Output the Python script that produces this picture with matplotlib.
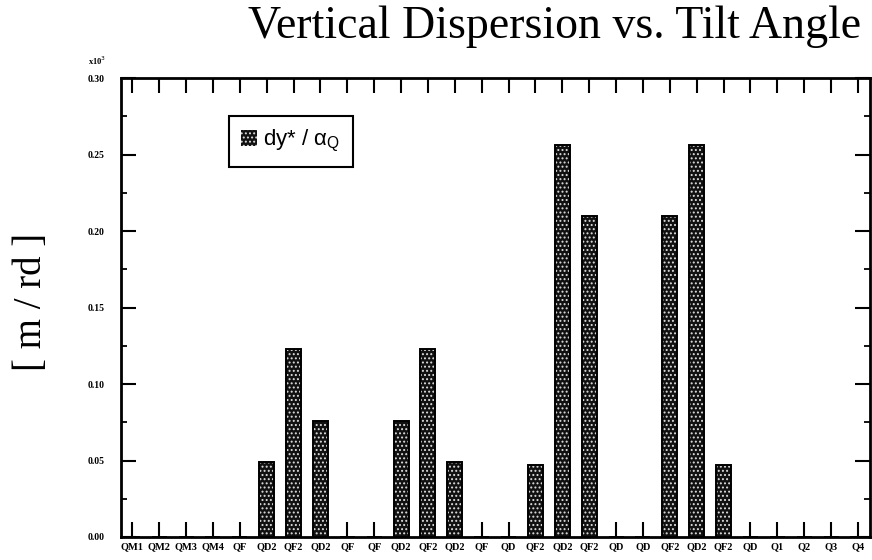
import matplotlib
matplotlib.use("Agg")
import matplotlib.pyplot as plt
from matplotlib.patches import Patch
from matplotlib.ticker import MultipleLocator

# Quadrupole names along the lattice
magnets = ["QM1", "QM2", "QM3", "QM4", "QF", "QD2", "QF2", "QD2", "QF", "QF",
           "QD2", "QF2", "QD2", "QF", "QD", "QF2", "QD2", "QF2", "QD", "QD",
           "QF2", "QD2", "QF2", "QD", "Q1", "Q2", "Q3", "Q4"]

# Vertical dispersion per unit tilt angle (x10^3 m/rd)
dy_per_alpha = [0.0, 0.0, 0.0, 0.0, 0.0, 0.049, 0.123, 0.076, 0.0, 0.0,
                0.076, 0.123, 0.049, 0.0, 0.0, 0.047, 0.256, 0.210, 0.0, 0.0,
                0.210, 0.256, 0.047, 0.0, 0.0, 0.0, 0.0, 0.0]

serif = ["Liberation Serif", "DejaVu Serif"]
plt.rcParams["hatch.linewidth"] = 0.9

fig = plt.figure(figsize=(8.72, 5.6), dpi=100)
ax = fig.add_axes([121 / 872, 23 / 560, 749 / 872, 459 / 560])

x = list(range(len(magnets)))
# stippled fill
ax.bar(x, dy_per_alpha, width=0.56, color="#111111", edgecolor="#dddddd",
       hatch="....", linewidth=0, zorder=2)
# solid outline
ax.bar(x, dy_per_alpha, width=0.56, fill=False, edgecolor="black",
       linewidth=1.4, zorder=3)

ax.set_xlim(-0.42, len(magnets) - 0.55)
ax.set_ylim(0, 0.30)

ax.set_xticks(x)
ax.set_xticklabels(magnets, family=serif, fontsize=7.5, fontweight="bold")
ax.yaxis.set_major_locator(MultipleLocator(0.05))
ax.yaxis.set_minor_locator(MultipleLocator(0.025))
ax.set_yticklabels([f"{v:.2f}" for v in ax.get_yticks()],
                   family=serif, fontsize=7, fontweight="bold")

ax.tick_params(axis="x", which="major", direction="in", length=11, width=1.5,
               top=True, bottom=True, pad=4)
ax.tick_params(axis="y", which="major", direction="in", length=11, width=1.5,
               left=True, right=True, pad=12)
ax.tick_params(axis="y", which="minor", direction="in", length=4, width=1.3,
               left=True, right=True)
ax.tick_params(axis="x", which="minor", bottom=False, top=False)

for s in ax.spines.values():
    s.set_linewidth(2)

fig.text(97 / 872, 1 - 61 / 560, r"x10$^{3}$", family=serif, fontsize=6,
         fontweight="bold", ha="center", va="center")

fig.text(555 / 872, 1 - 27 / 560, "Vertical Dispersion vs. Tilt Angle",
         family=serif, fontsize=33, ha="center", va="center")
fig.text(32 / 872, 1 - 302 / 560, "[ m / rd ]", family=serif, fontsize=28,
         rotation=90, ha="center", va="center")

handle = Patch(facecolor="#111111", edgecolor="#dddddd", hatch="....", linewidth=0)
leg = ax.legend([handle], ["dy* / α$_{\\mathregular{Q}}$"],
                loc="upper left", bbox_to_anchor=(0.144, 0.917),
                fancybox=False, framealpha=1, edgecolor="black",
                handlelength=0.7, handleheight=0.7, handletextpad=0.3,
                borderpad=0.55, borderaxespad=0, fontsize=16)
leg.get_frame().set_linewidth(1.5)
for t in leg.get_texts():
    t.set_family(["Liberation Sans", "DejaVu Sans"])

fig.savefig("out.png", dpi=100)
